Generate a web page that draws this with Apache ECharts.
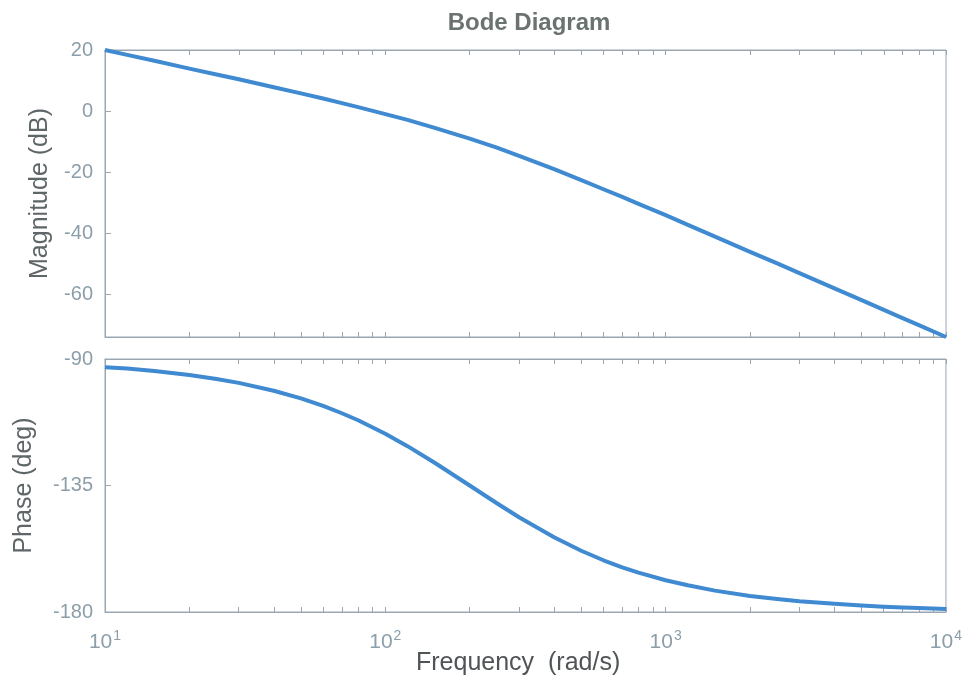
<!DOCTYPE html>
<html>
<head>
<meta charset="utf-8">
<script src="https://cdn.jsdelivr.net/npm/echarts@6/dist/echarts.min.js"></script>
<style>
  html, body { margin: 0; padding: 0; background: #fff; }
  #chart { width: 965px; height: 695px; }
</style>
</head>
<body>
<div id="chart"></div>
<script>
var freqs = [10, 12, 15, 20, 25, 30, 40, 50, 60, 70, 80, 100, 120, 150, 200, 250, 300, 400, 500, 600, 700, 800,
    1000, 1200, 1500, 2000, 2500, 3000, 4000, 5000, 6000, 7000, 8000, 10000];
var magDb = [20.0, 18.4, 16.5, 13.9, 12.0, 10.4, 7.8, 5.8, 4.1, 2.6, 1.3, -1.0, -2.9, -5.5, -9.0, -12.0, -14.7, -19.0, -22.6, -25.6, -28.1, -30.4,
    -34.1, -37.3, -41.1, -46.1, -49.9, -53.1, -58.1, -61.9, -65.1, -67.8, -70.1, -74.0];
var phaseDeg = [-92.9, -93.4, -94.3, -95.7, -97.1, -98.5, -101.3, -104.0, -106.7, -109.3, -111.8, -116.6, -121.0, -126.9, -135.0, -141.3, -146.3, -153.4, -158.2, -161.6, -164.1, -166.0,
    -168.7, -170.5, -172.4, -174.3, -175.4, -176.2, -177.1, -177.7, -178.1, -178.4, -178.6, -178.9];

var magTicks = [-60, -40, -20, 0, 20];
var decadeTicks = [10, 100, 1000, 10000];
var logTicks = [10, 20, 30, 40, 50, 60, 70, 80, 90, 100, 200, 300, 400, 500, 600, 700, 800, 900,
    1000, 2000, 3000, 4000, 5000, 6000, 7000, 8000, 9000, 10000];

var frameColor = '#9aa6b0';
var labelColor = '#8c9ea9';
var nameColor = '#5f6668';
var lineColor = '#3f8ad0';
var fontFamily = '"Liberation Sans", Arial, sans-serif';

var pairs = function (ys) {
    return freqs.map(function (f, i) { return [f, ys[i]]; });
};

var logAxis = function (grid, position, showLabels) {
    return {
        type: 'log',
        logBase: 10,
        gridIndex: grid,
        position: position,
        min: 10,
        max: 10000,
        axisLine: { show: true, onZero: false, lineStyle: { color: frameColor, width: 1 } },
        axisTick: { show: true, inside: true, length: 5, customValues: logTicks, lineStyle: { color: frameColor } },
        minorTick: { show: false },
        splitLine: { show: false },
        axisLabel: {
            show: showLabels,
            customValues: decadeTicks,
            margin: 17,
            fontFamily: fontFamily,
            formatter: function (v) {
                return '{b|10}{s|' + Math.round(Math.log10(v)) + '}';
            },
            rich: {
                b: { fontSize: 21, color: labelColor, fontFamily: fontFamily },
                s: { fontSize: 14, color: labelColor, fontFamily: fontFamily, padding: [0, 0, 13, 1] }
            }
        }
    };
};

var chart = echarts.init(document.getElementById('chart'));
chart.setOption({
    backgroundColor: '#fff',
    animation: false,
    title: {
        text: 'Bode Diagram',
        left: 524,
        textAlign: 'center',
        top: 6,
        textStyle: { fontFamily: fontFamily, fontSize: 24, fontWeight: 'bold', color: '#6b7371' }
    },
    grid: [
        { left: 105, right: 19, top: 50, height: 287, show: true, borderColor: frameColor, borderWidth: 1 },
        { left: 105, right: 19, top: 359, height: 253, show: true, borderColor: frameColor, borderWidth: 1 }
    ],
    xAxis: [
        logAxis(0, 'bottom', false),
        logAxis(0, 'top', false),
        logAxis(1, 'bottom', true),
        logAxis(1, 'top', false)
    ],
    yAxis: [{
        type: 'value',
        gridIndex: 0,
        min: -74,
        max: 20,
        name: 'Magnitude (dB)',
        nameLocation: 'middle',
        nameGap: 52,
        nameTextStyle: { fontFamily: fontFamily, fontSize: 25, color: nameColor },
        axisLine: { show: true, lineStyle: { color: frameColor } },
        axisTick: { show: true, inside: true, length: 6, customValues: magTicks, lineStyle: { color: frameColor } },
        splitLine: { show: false },
        axisLabel: { customValues: magTicks, margin: 12, fontFamily: fontFamily, fontSize: 20, color: labelColor }
    }, {
        type: 'value',
        gridIndex: 1,
        min: -180,
        max: -90,
        interval: 45,
        name: 'Phase (deg)',
        nameLocation: 'middle',
        nameGap: 68,
        nameTextStyle: { fontFamily: fontFamily, fontSize: 25, color: nameColor },
        axisLine: { show: true, lineStyle: { color: frameColor } },
        axisTick: { show: true, inside: true, length: 6, lineStyle: { color: frameColor } },
        splitLine: { show: false },
        axisLabel: { margin: 12, fontFamily: fontFamily, fontSize: 20, color: labelColor }
    }],
    graphic: [{
        type: 'text',
        left: 416,
        top: 651,
        style: { text: 'Frequency  (rad/s)', fontFamily: fontFamily, fontSize: 25, fill: '#4f5456' }
    }],
    series: [{
        type: 'line',
        xAxisIndex: 0,
        yAxisIndex: 0,
        data: pairs(magDb),
        smooth: false,
        symbol: 'none',
        lineStyle: { color: lineColor, width: 4, join: 'round' }
    }, {
        type: 'line',
        xAxisIndex: 2,
        yAxisIndex: 1,
        data: pairs(phaseDeg),
        smooth: false,
        symbol: 'none',
        lineStyle: { color: lineColor, width: 4, join: 'round' }
    }]
});
</script>
</body>
</html>
